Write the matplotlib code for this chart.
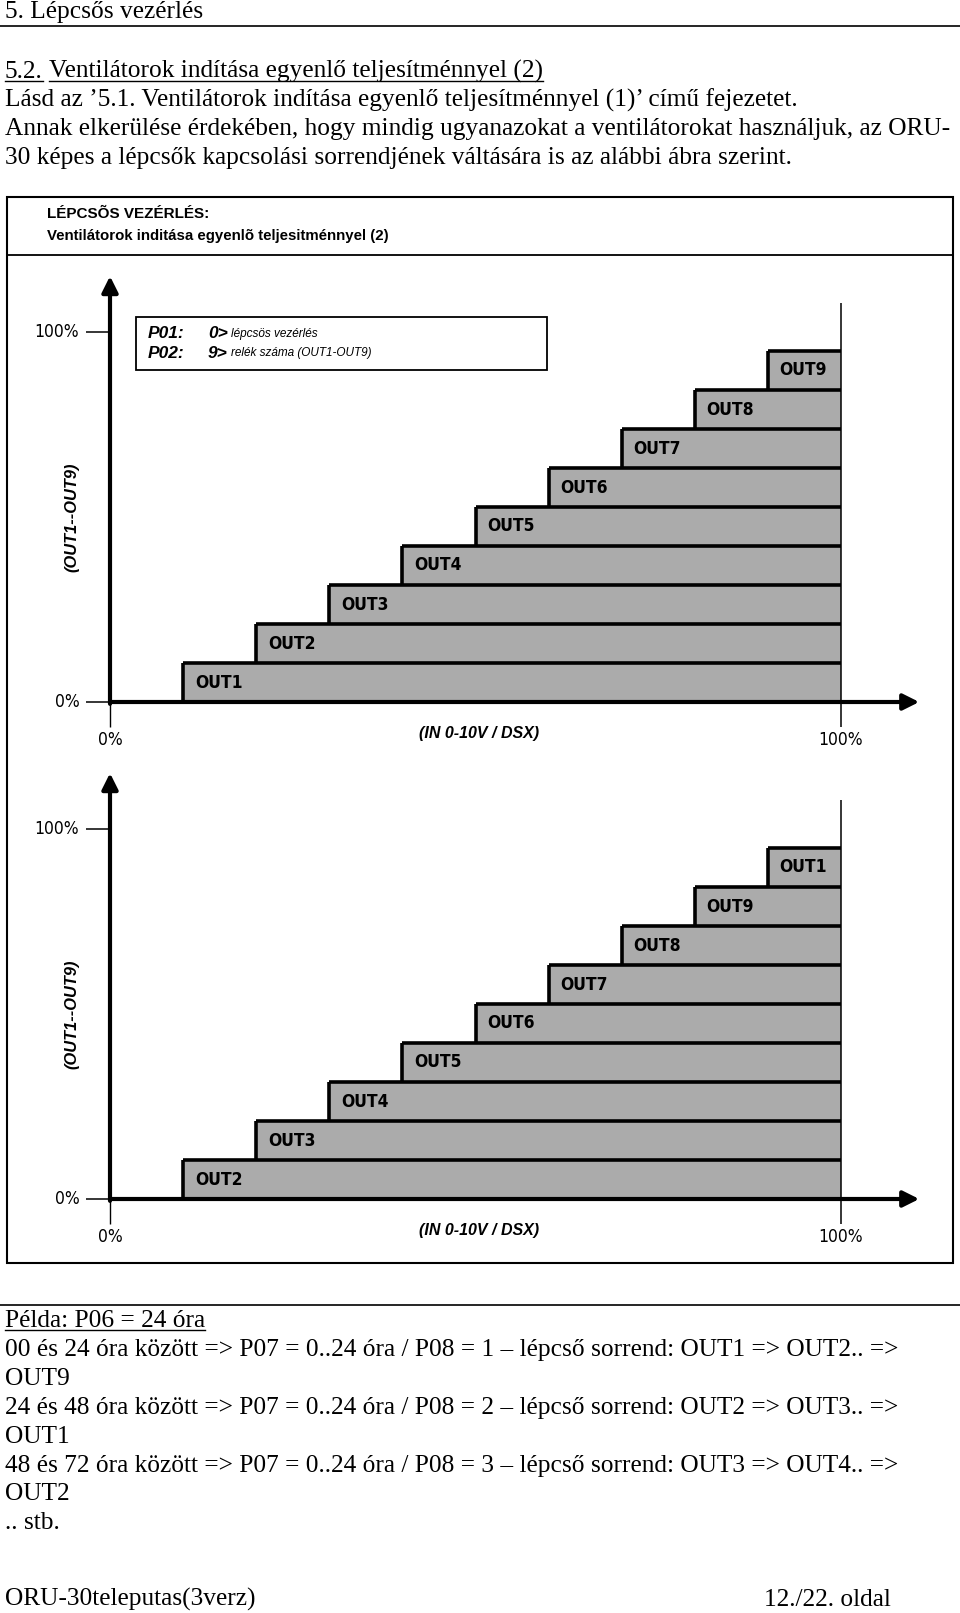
import matplotlib
matplotlib.use("Agg")
import matplotlib.pyplot as plt
from matplotlib.patches import Rectangle

# === Step diagram data (input % on x, output level % on y) ===
step_starts = [10, 20, 30, 40, 50, 60, 70, 80, 90]
step_tops = [10.5, 21.1, 31.6, 42.2, 52.7, 63.2, 73.8, 84.3, 94.9]
order_1 = ["OUT1", "OUT2", "OUT3", "OUT4", "OUT5", "OUT6", "OUT7", "OUT8", "OUT9"]
order_2 = ["OUT2", "OUT3", "OUT4", "OUT5", "OUT6", "OUT7", "OUT8", "OUT9", "OUT1"]
x_ticks = [0, 100]
x_tick_labels = ["0%", "100%"]
y_ticks = [0, 100]
y_tick_labels = ["0%", "100%"]

# === Page text ===
intro_lines = [
    "Lásd az ’5.1. Ventilátorok indítása egyenlő teljesítménnyel (1)’ című fejezetet.",
    "Annak elkerülése érdekében, hogy mindig ugyanazokat a ventilátorokat használjuk, az ORU-",
    "30 képes a lépcsők kapcsolási sorrendjének váltására is az alábbi ábra szerint.",
]
example_lines = [
    "00 és 24 óra között => P07 = 0..24 óra / P08 = 1 – lépcső sorrend: OUT1 => OUT2.. =>",
    "OUT9",
    "24 és 48 óra között => P07 = 0..24 óra / P08 = 2 – lépcső sorrend: OUT2 => OUT3.. =>",
    "OUT1",
    "48 és 72 óra között => P07 = 0..24 óra / P08 = 3 – lépcső sorrend: OUT3 => OUT4.. =>",
    "OUT2",
    ".. stb.",
]

W, H = 960, 1613
SERIF = "Liberation Serif"
SANS = "Liberation Sans"
FS = 18.3
GRAY = "#ababab"

fig = plt.figure(figsize=(W / 100, H / 100), dpi=100)
page = fig.add_axes([0, 0, 1, 1])
page.set_xlim(0, W)
page.set_ylim(H, 0)
page.axis("off")
renderer = fig.canvas.get_renderer()


def ptext(x, y, s, **kw):
    kw.setdefault("fontsize", FS)
    kw.setdefault("family", SERIF)
    return page.text(x, y, s, va="baseline", **kw)


def underline(t, y):
    bb = t.get_window_extent(renderer)
    page.plot([bb.x0, bb.x1], [y, y], color="black", lw=1)


# header
ptext(5, 18, "5. Lépcsős vezérlés")
page.plot([0, W], [26, 26], color="black", lw=1.2)

t1 = ptext(5, 78, "5.2.")
underline(t1, 81)
bb = t1.get_window_extent(renderer)
t2 = ptext(bb.x1 + 6, 78, "Ventilátorok indítása egyenlő teljesítménnyel (2)")
underline(t2, 81)

for i, line in enumerate(intro_lines):
    ptext(5, 107 + i * 28.5, line)

# chart frame
page.add_patch(Rectangle((7, 197), 946, 1066, fill=False, lw=1.5, ec="black"))
page.plot([7, 953], [255, 255], color="black", lw=1.3)
page.text(47, 214, "LÉPCSÕS VEZÉRLÉS:", family=SANS, weight="bold",
          fontsize=11, va="center")
page.text(47, 236, "Ventilátorok inditása egyenlõ teljesitménnyel (2)",
          family=SANS, weight="bold", fontsize=10.8, va="center")

# example text
page.plot([0, W], [1305, 1305], color="black", lw=1.2)
t3 = ptext(5, 1327, "Példa: P06 = 24 óra")
underline(t3, 1330)
for i, line in enumerate(example_lines):
    ptext(5, 1356 + i * 28.9, line)

ptext(5, 1606, "ORU-30teleputas(3verz)")
ptext(891, 1606, "12./22. oldal", ha="right")

# === Step charts ===
X0, XS, YS = 110, 7.31, 3.7


def chart_axes(y0):
    lpx, rpx, tpx, bpx = 30, 945, y0 - 440, y0 + 50
    ax = fig.add_axes([lpx / W, 1 - bpx / H, (rpx - lpx) / W, (bpx - tpx) / H])
    ax.set_xlim((lpx - X0) / XS, (rpx - X0) / XS)
    ax.set_ylim((y0 - bpx) / YS, (y0 - tpx) / YS)
    ax.axis("off")
    ax.patch.set_alpha(0)
    return ax


def draw_steps(ax, labels, show_params):
    bottoms = [0] + step_tops[:-1]
    for start, bot, top, lab in zip(step_starts, bottoms, step_tops, labels):
        ax.barh(bot, 100 - start, height=top - bot, left=start, align="edge",
                color=GRAY, lw=0, zorder=1)
        ax.hlines(top, start, 100, color="black", lw=2.6, zorder=3)
        ax.vlines(start, bot, top, color="black", lw=2.6, zorder=3)
        ax.text(start + 1.6, (bot + top) / 2, lab, fontsize=12.5, weight="bold",
                family="DejaVu Sans", stretch="condensed", va="center", zorder=4)

    arrow = dict(arrowstyle="-|>", lw=3, color="black", mutation_scale=24,
                 shrinkA=0, shrinkB=0)
    ax.annotate("", xy=(0, 115.1), xytext=(0, -0.5), arrowprops=arrow, zorder=5)
    ax.annotate("", xy=(110.7, 0), xytext=(0, 0), arrowprops=arrow, zorder=5)
    ax.vlines(0, -6.8, 0, color="black", lw=1)
    ax.vlines(100, -6.8, 107.8, color="black", lw=1.1, zorder=4)
    ax.hlines(y_ticks, -3.3, 0, color="black", lw=1.1)

    for v, lab in zip(y_ticks, y_tick_labels):
        ax.text(-4.2, v, lab, ha="right", va="center", fontsize=12.5,
                family="DejaVu Sans", stretch="condensed")
    for v, lab in zip(x_ticks, x_tick_labels):
        ax.text(v, -10.3, lab, ha="center", va="center", fontsize=12.5,
                family="DejaVu Sans", stretch="condensed")

    ax.text(50.5, -8.6, "(IN 0-10V / DSX)", ha="center", va="center",
            fontsize=11.5, family=SANS, weight="bold", style="italic")
    ax.text(-5.2, 50, "(OUT1--OUT9)", ha="center", va="center", rotation=90,
            fontsize=11.8, family=SANS, weight="bold", style="italic")

    if show_params:
        ax.add_patch(Rectangle((3.6, 89.7), 56.2, 14.3, fill=False, lw=1.3, ec="black"))
        for yy, p, n, desc in [(99.5, "P01:", "0>", "lépcsös vezérlés"),
                               (94.3, "P02:", "9>", "relék száma (OUT1-OUT9)")]:
            ax.text(5.2, yy, p, fontsize=12.5, family=SANS, style="italic",
                    weight="bold", va="center")
            ax.text(13.4, yy, n, fontsize=12.5, family=SANS, style="italic",
                    weight="bold", va="center")
            ax.text(16.6, yy, desc, fontsize=8.5, family=SANS, style="italic",
                    va="center")


draw_steps(chart_axes(702), order_1, True)
draw_steps(chart_axes(1199), order_2, False)

fig.savefig("out.png", dpi=100)
